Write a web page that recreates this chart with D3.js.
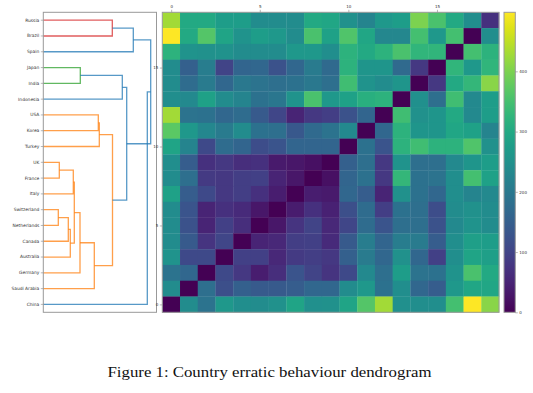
<!DOCTYPE html>
<html><head><meta charset="utf-8">
<script src="https://cdn.jsdelivr.net/npm/d3@7"></script>
<style>body{margin:0;background:#fff}svg{display:block}</style>
</head><body><svg id="c" width="533" height="393"></svg>
<script>
// Leaves, top to bottom
const leaves = ["Russia","Brazil","Spain","Japan","India","Indonesia","USA","Korea","Turkey","UK","France","Italy","Switzerland","Netherlands","Canada","Australia","Germany","Saudi Arabia","China"];
// Linkage: child A, child B (leaf name or earlier merge index), merge height
const mergeA = ["UK","Switzerland",1,2,0,4,5,"Japan",6,"USA",9,"Russia",10,7,13,11,15,16];
const mergeB = ["France","Netherlands","Canada","Australia","Italy",3,"Germany","India","Saudi Arabia","Korea","Turkey","Brazil",8,"Indonesia",12,"Spain",14,"China"];
const mergeH = [16,15,25,27,30,31,36.7,37,51,55,56,69,69.2,79,83.4,90,107.4,104];
// Heatmap distances, rows top to bottom (Russia..China), columns left to right (China..Russia)
const rowRussia      = [428,300,300,275,275,240,240,240,300,295,250,225,265,275,400,355,300,245,70];
const rowBrazil      = [498,300,365,290,255,275,265,240,355,285,360,295,230,230,350,265,350,0,245];
const rowSpain       = [320,255,250,252,240,240,240,265,265,245,320,300,320,355,325,325,0,350,320];
const rowJapan       = [240,150,210,100,160,165,125,165,205,170,320,260,260,170,80,0,325,265,325];
const rowIndia       = [240,175,205,165,200,190,180,185,200,180,345,255,240,260,0,80,300,330,410];
const rowIndonesia   = [245,235,285,240,225,185,195,255,355,265,285,315,320,0,248,180,345,235,275];
const rowUSA         = [428,190,185,165,175,140,105,50,80,90,125,160,0,345,250,260,300,235,275];
const rowKorea       = [370,265,230,205,240,185,180,135,170,190,235,0,165,320,260,260,295,285,225];
const rowTurkey      = [290,225,110,175,160,115,130,160,160,160,0,185,130,320,345,320,320,360,250];
const rowUK          = [245,145,70,80,65,70,35,30,20,0,150,180,80,255,180,180,235,260,275];
const rowFrance      = [240,180,85,80,90,95,50,30,0,20,160,185,80,330,185,190,245,350,285];
const rowItaly       = [285,145,110,80,90,70,40,0,40,35,165,145,50,250,185,165,245,225,235];
const rowSwitzerland = [240,130,50,70,60,30,0,38,70,45,120,175,90,185,180,115,240,250,240];
const rowNetherlands = [240,125,50,95,65,0,30,75,100,55,105,175,130,180,180,125,235,255,240];
const rowCanada      = [240,140,75,105,0,50,55,90,95,60,140,210,160,210,205,145,245,280,275];
const rowAustralia   = [255,110,110,0,95,95,55,85,90,80,150,205,165,250,165,95,245,290,280];
const rowGermany     = [190,165,0,110,80,40,65,130,100,75,110,235,180,275,190,185,255,355,300];
const rowSaudi       = [240,0,180,120,150,140,140,145,165,165,240,265,185,245,165,145,265,295,295];
const rowChina       = [0,240,190,265,245,240,250,290,248,250,290,365,428,248,245,245,350,498,410];
const matrixRows = [rowRussia,rowBrazil,rowSpain,rowJapan,rowIndia,rowIndonesia,rowUSA,rowKorea,rowTurkey,rowUK,rowFrance,rowItaly,rowSwitzerland,rowNetherlands,rowCanada,rowAustralia,rowGermany,rowSaudi,rowChina];
const heatTicks = [0,5,10,15];
const colorTicks = [0,100,200,300,400];
const colorMax = 498;
const caption = "Figure 1: Country erratic behaviour dendrogram";

const svg = d3.select("#c");
const TOP = 12.3, BOT = 312.3;
const FONT = "DejaVu Sans";

// ---------- Dendrogram ----------
const dL = 43.3, dR = 156.5;
const maxH = d3.max(mergeH);
const xD = d3.scaleLinear().domain([0, maxH*1.054]).range([dL, dR]);
const yBand = d3.scaleBand().domain(leaves).range([TOP, BOT]);
const n = mergeH.length;
const nodeY = [], nodeH = [];
const yOf = c => typeof c === "string" ? yBand(c) + yBand.bandwidth()/2 : nodeY[c];
const hOf = c => typeof c === "string" ? 0 : mergeH[c];
for (let i = 0; i < n; i++) { nodeY[i] = (yOf(mergeA[i]) + yOf(mergeB[i]))/2; nodeH[i] = mergeH[i]; }
// parents
const parent = new Array(n).fill(-1);
for (let i = 0; i < n; i++) { [mergeA[i], mergeB[i]].forEach(c => { if (typeof c === "number") parent[c] = i; }); }
const thr = 0.7 * maxH;
const clusterRoot = i => { let r = i; while (parent[r] >= 0 && mergeH[parent[r]] < thr) r = parent[r]; return r; };
const roots = [...new Set(d3.range(n).filter(i => mergeH[i] < thr).map(clusterRoot))].sort((a,b) => nodeY[b]-nodeY[a]);
const palette = ["#ff7f0e","#2ca02c","#d62728"];
const linkColor = i => mergeH[i] < thr ? palette[roots.indexOf(clusterRoot(i))] : "#1f77b4";

const gD = svg.append("g");
for (let i = 0; i < n; i++) {
  const ya = yOf(mergeA[i]), yb = yOf(mergeB[i]);
  const p = d3.path();
  p.moveTo(xD(hOf(mergeA[i])), ya); p.lineTo(xD(mergeH[i]), ya);
  p.lineTo(xD(mergeH[i]), yb); p.lineTo(xD(hOf(mergeB[i])), yb);
  gD.append("path").attr("d", p.toString()).attr("fill","none")
    .attr("stroke", linkColor(i)).attr("stroke-width", 1.3).attr("stroke-opacity", 0.75);
}
svg.append("rect").attr("x", dL).attr("y", TOP).attr("width", dR-dL).attr("height", BOT-TOP)
  .attr("fill","none").attr("stroke","#999").attr("stroke-width",1);
const axL = svg.append("g").attr("transform", `translate(${dL},0)`)
  .call(d3.axisLeft(yBand).tickSize(2.5).tickPadding(1.5));
axL.select(".domain").remove();
axL.selectAll("line").attr("stroke","#888").attr("stroke-width",0.6);
axL.selectAll("text").attr("font-family",FONT).attr("font-size",4.4).attr("fill","#333");

// ---------- Heatmap ----------
const hL = 162.3, hR = 499;
const xH = d3.scaleLinear().domain([-0.5, leaves.length-0.5]).range([hL, hR]);
const yH = d3.scaleLinear().domain([-0.5, leaves.length-0.5]).range([BOT, TOP]);
const color = v => d3.interpolateViridis(v / colorMax);
const cells = [];
matrixRows.forEach((row, r) => row.forEach((v, j) => cells.push({r: leaves.length-1-r, j, v})));
svg.append("g").selectAll("rect").data(cells).join("rect")
  .attr("x", d => xH(d.j-0.5)).attr("y", d => yH(d.r+0.5))
  .attr("width", d => xH(d.j+0.5)-xH(d.j-0.5)+0.3)
  .attr("height", d => yH(d.r-0.5)-yH(d.r+0.5)+0.3)
  .attr("fill", d => color(d.v));
svg.append("rect").attr("x", hL).attr("y", TOP).attr("width", hR-hL).attr("height", BOT-TOP)
  .attr("fill","none").attr("stroke","#999").attr("stroke-width",1);
const styleAx = g => { g.select(".domain").remove();
  g.selectAll("line").attr("stroke","#888").attr("stroke-width",0.6);
  g.selectAll("text").attr("font-family",FONT).attr("font-size",4).attr("fill","#333"); };
svg.append("g").attr("transform",`translate(0,${TOP})`)
  .call(d3.axisTop(xH).tickValues(heatTicks).tickFormat(d3.format("d")).tickSize(2.5).tickPadding(1.5)).call(styleAx);
svg.append("g").attr("transform",`translate(${hL},0)`)
  .call(d3.axisLeft(yH).tickValues(heatTicks).tickFormat(d3.format("d")).tickSize(2.5).tickPadding(1.5)).call(styleAx);

// ---------- Colorbar ----------
const cL = 504, cW = 11.3;
const yC = d3.scaleLinear().domain([0, colorMax]).range([BOT, TOP]);
const grad = svg.append("defs").append("linearGradient").attr("id","vir")
  .attr("x1",0).attr("y1",1).attr("x2",0).attr("y2",0);
d3.range(0, 1.0001, 0.05).forEach(t => grad.append("stop").attr("offset", t).attr("stop-color", d3.interpolateViridis(t)));
svg.append("rect").attr("x", cL).attr("y", TOP).attr("width", cW).attr("height", BOT-TOP)
  .attr("fill","url(#vir)").attr("stroke","#999").attr("stroke-width",1);
svg.append("g").attr("transform",`translate(${cL+cW},0)`)
  .call(d3.axisRight(yC).tickValues(colorTicks).tickFormat(d3.format("d")).tickSize(2.5).tickPadding(1.5)).call(styleAx);

// ---------- Caption ----------
svg.append("text").attr("x", 269.5).attr("y", 377).attr("text-anchor","middle")
  .attr("font-family","Liberation Serif").attr("font-size",14)
  .attr("textLength",324).attr("lengthAdjust","spacingAndGlyphs")
  .attr("fill","#111").text(caption);
</script></body></html>
